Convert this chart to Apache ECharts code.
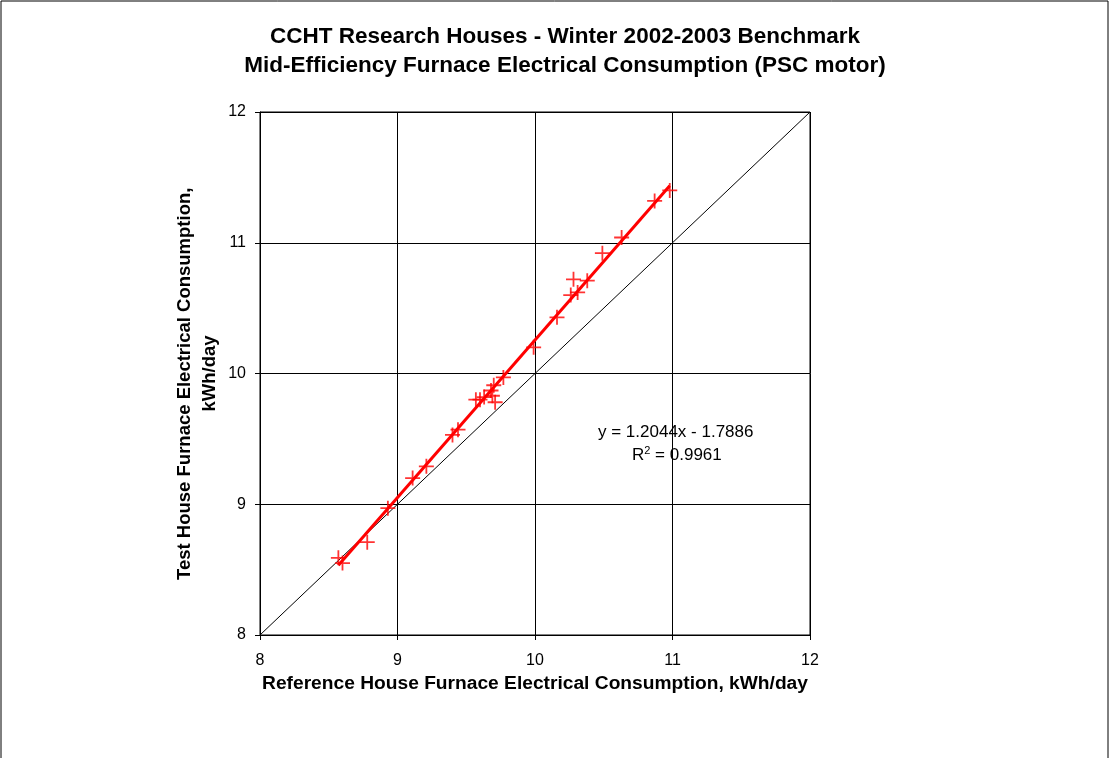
<!DOCTYPE html>
<html><head><meta charset="utf-8">
<script src="https://cdn.jsdelivr.net/npm/echarts@6/dist/echarts.min.js"></script>
<style>html,body{margin:0;padding:0;background:#fff}#c{width:1110px;height:758px}</style>
</head><body><div id="c"></div>
<script>
const refX = [8.57, 8.60, 8.78, 8.93, 9.11, 9.21, 9.40, 9.44, 9.57, 9.60, 9.63, 9.68, 9.69, 9.70, 9.71, 9.77, 9.99, 10.16, 10.26, 10.28, 10.31, 10.38, 10.49, 10.63, 10.87, 10.98];
const testY = [8.59, 8.55, 8.71, 8.97, 9.20, 9.29, 9.53, 9.57, 9.80, 9.80, 9.82, 9.87, 9.83, 9.91, 9.78, 9.97, 10.20, 10.43, 10.60, 10.72, 10.62, 10.71, 10.92, 11.04, 11.32, 11.40];
const trendSlope = 1.2044, trendIntercept = -1.7886;
const axisTicks = [8, 9, 10, 11, 12];
const titleLines = ['CCHT Research Houses - Winter 2002-2003 Benchmark', 'Mid-Efficiency Furnace Electrical Consumption (PSC motor)'];

const pts = refX.map((x, i) => [x, testY[i]]);
const xmin = Math.min(...refX), xmax = Math.max(...refX);
const trend = [[xmin, trendSlope * xmin + trendIntercept], [xmax, trendSlope * xmax + trendIntercept]];
const diag = [[axisTicks[0], axisTicks[0]], [axisTicks[axisTicks.length - 1], axisTicks[axisTicks.length - 1]]];
const F = 'Liberation Sans, Arial, sans-serif';

const chart = echarts.init(document.getElementById('c'));
const axisCommon = {
  type: 'value', min: 8, max: 12, interval: 1,
  axisLine: { show: true, onZero: false, lineStyle: { color: '#000', width: 1 } },
  axisTick: { show: true, length: 5, lineStyle: { color: '#000' } },
  splitLine: { show: true, lineStyle: { color: '#000', width: 1 } },
  axisLabel: { color: '#000', fontSize: 16, fontFamily: F },
  nameTextStyle: { color: '#000', fontSize: 18.5, fontWeight: 'bold', fontFamily: F }
};
chart.setOption({
  animation: false,
  backgroundColor: '#fff',
  title: {
    text: titleLines.join('\n'), left: 560, top: 17, textAlign: 'center',
    textStyle: { fontSize: 22.5, fontWeight: 'bold', color: '#000', fontFamily: F, lineHeight: 29 }
  },
  grid: { left: 260, right: 300, top: 112, bottom: 123, show: true, borderColor: '#000', borderWidth: 1 },
  xAxis: Object.assign({}, axisCommon, {
    name: 'Reference House Furnace Electrical Consumption, kWh/day', nameLocation: 'middle', nameGap: 38,
    nameTextStyle: Object.assign({}, axisCommon.nameTextStyle, { fontSize: 19.2 }),
    axisLabel: Object.assign({}, axisCommon.axisLabel, { margin: 18 })
  }),
  yAxis: Object.assign({}, axisCommon, {
    name: 'Test House Furnace Electrical Consumption,\u00a0\u00a0\u00a0\u00a0\nkWh/day', nameLocation: 'middle', nameGap: 38,
    nameTextStyle: Object.assign({}, axisCommon.nameTextStyle, { lineHeight: 25 }),
    axisLabel: Object.assign({}, axisCommon.axisLabel, { margin: 14 })
  }),
  series: [
    { type: 'line', data: diag, symbol: 'none', lineStyle: { color: '#000', width: 1 }, z: 2 },
    { type: 'line', data: trend, symbol: 'none', lineStyle: { color: '#ff0000', width: 3 }, z: 3 },
    { type: 'scatter', data: pts, symbol: 'path://M0,4.4h10v1.2h-10z M4.4,0h1.2v10h-1.2z', symbolSize: 15,
      itemStyle: { color: '#ff0000' }, z: 4 }
  ],
  graphic: [
    { type: 'rect', shape: { x: 1, y: 1, width: 1107, height: 800 }, style: { fill: 'none', stroke: '#000', lineWidth: 1 }, silent: true },
    { type: 'text', left: 598, top: 424, style: { text: 'y = 1.2044x - 1.7886', fontSize: 17, fontFamily: F, fill: '#000' } },
    { type: 'text', left: 632, top: 445, style: { text: 'R{s|2} = 0.9961', fontSize: 17, fontFamily: F, fill: '#000',
      rich: { s: { fontSize: 11, verticalAlign: 'top', padding: [0, 0, 9, 0] } } } }
  ]
});
</script></body></html>
